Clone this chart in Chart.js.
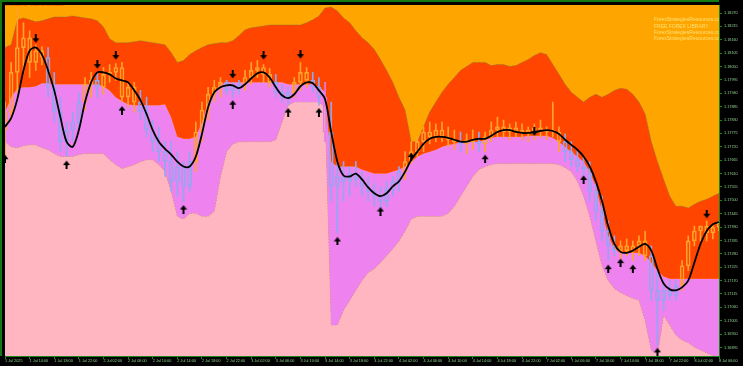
<!DOCTYPE html>
<html><head><meta charset="utf-8">
<script src="https://cdn.jsdelivr.net/npm/chart.js@4.4.1/dist/chart.umd.min.js"></script>
<style>html,body{margin:0;padding:0;background:#000;overflow:hidden}canvas{display:block}</style>
</head><body>
<canvas id="c" width="743" height="366"></canvas>
<script>
const categories = [
"1 Jul 10:00","1 Jul 11:00","1 Jul 12:00","1 Jul 13:00","1 Jul 14:00","1 Jul 15:00","1 Jul 16:00","1 Jul 17:00","1 Jul 18:00","1 Jul 19:00","1 Jul 20:00","1 Jul 21:00","1 Jul 22:00","1 Jul 23:00",
"2 Jul 00:00","2 Jul 01:00","2 Jul 02:00","2 Jul 03:00","2 Jul 04:00","2 Jul 05:00","2 Jul 06:00","2 Jul 07:00","2 Jul 08:00","2 Jul 09:00","2 Jul 10:00","2 Jul 11:00","2 Jul 12:00","2 Jul 13:00","2 Jul 14:00","2 Jul 15:00","2 Jul 16:00","2 Jul 17:00","2 Jul 18:00","2 Jul 19:00","2 Jul 20:00","2 Jul 21:00","2 Jul 22:00","2 Jul 23:00",
"3 Jul 00:00","3 Jul 01:00","3 Jul 02:00","3 Jul 03:00","3 Jul 04:00","3 Jul 05:00","3 Jul 06:00","3 Jul 07:00","3 Jul 08:00","3 Jul 09:00","3 Jul 10:00","3 Jul 11:00","3 Jul 12:00","3 Jul 13:00","3 Jul 14:00","3 Jul 15:00","3 Jul 16:00","3 Jul 17:00","3 Jul 18:00","3 Jul 19:00","3 Jul 20:00","3 Jul 21:00","3 Jul 22:00","3 Jul 23:00",
"4 Jul 00:00","4 Jul 01:00","4 Jul 02:00","4 Jul 03:00","4 Jul 04:00","4 Jul 05:00","4 Jul 06:00","4 Jul 07:00","4 Jul 08:00","4 Jul 09:00","4 Jul 10:00","4 Jul 11:00","4 Jul 12:00","4 Jul 13:00","4 Jul 14:00","4 Jul 15:00","4 Jul 16:00","4 Jul 17:00","4 Jul 18:00","4 Jul 19:00","4 Jul 20:00","4 Jul 21:00","4 Jul 22:00","4 Jul 23:00",
"7 Jul 00:00","7 Jul 01:00","7 Jul 02:00","7 Jul 03:00","7 Jul 04:00","7 Jul 05:00","7 Jul 06:00","7 Jul 07:00","7 Jul 08:00","7 Jul 09:00","7 Jul 10:00","7 Jul 11:00","7 Jul 12:00","7 Jul 13:00","7 Jul 14:00","7 Jul 15:00","7 Jul 16:00","7 Jul 17:00","7 Jul 18:00","7 Jul 19:00","7 Jul 20:00","7 Jul 21:00","7 Jul 22:00","7 Jul 23:00",
"8 Jul 00:00","8 Jul 01:00","8 Jul 02:00","8 Jul 03:00","8 Jul 04:00","8 Jul 05:00","8 Jul 06:00"];

const tickLabels = ["1 Jul 2025","1 Jul 14:00","1 Jul 18:00","1 Jul 22:00","2 Jul 02:00","2 Jul 06:00","2 Jul 10:00","2 Jul 14:00","2 Jul 18:00","2 Jul 22:00","3 Jul 02:00","3 Jul 06:00","3 Jul 10:00","3 Jul 14:00","3 Jul 18:00","3 Jul 22:00","4 Jul 02:00","4 Jul 06:00","4 Jul 10:00","4 Jul 14:00","4 Jul 18:00","4 Jul 22:00","7 Jul 02:00","7 Jul 06:00","7 Jul 10:00","7 Jul 14:00","7 Jul 18:00","7 Jul 22:00","8 Jul 02:00","8 Jul 06:00"];

const yTicks = [1.16895,1.16950,1.17005,1.17060,1.17115,1.17170,1.17225,1.17280,1.17335,1.17390,1.17445,1.17500,1.17555,1.17610,1.17665,1.17720,1.17775,1.17830,1.17885,1.17940,1.17995,1.18050,1.18105,1.18160,1.18215,1.18270];

const openP = [1.17789,1.17863,1.18026,1.18128,1.18168,1.18067,1.18115,1.18087,1.17965,1.17863,
1.17741,1.17789,1.17822,1.17904,1.17977,1.17993,1.17965,1.18018,1.18026,1.18046,
1.17924,1.17965,1.17904,1.17863,1.17789,1.17741,1.17700,1.17659,1.17578,1.17639,
1.17557,1.17659,1.17781,1.17871,1.17936,1.17965,1.17985,1.17952,1.17969,1.17977,
1.18005,1.18034,1.18046,1.18018,1.17985,1.17944,1.17924,1.17944,1.17985,1.18026,
1.17993,1.17965,1.17924,1.17781,1.17557,1.17598,1.17578,1.17610,1.17586,1.17557,
1.17537,1.17517,1.17496,1.17545,1.17578,1.17618,1.17659,1.17700,1.17741,1.17781,
1.17761,1.17789,1.17761,1.17749,1.17741,1.17732,1.17749,1.17741,1.17732,1.17761,
1.17789,1.17802,1.17781,1.17798,1.17781,1.17789,1.17773,1.17798,1.17781,1.17789,
1.17781,1.17741,1.17700,1.17667,1.17639,1.17627,1.17537,1.17455,1.17374,1.17313,
1.17293,1.17313,1.17293,1.17313,1.17333,1.17272,1.17130,1.17089,1.17130,1.17109,
1.17150,1.17231,1.17333,1.17374,1.17394,1.17366,1.17390];

const highP = [1.17904,1.18067,1.18291,1.18230,1.18197,1.18140,1.18132,1.18128,1.18026,1.17924,
1.17822,1.17863,1.17944,1.18005,1.18026,1.18026,1.18046,1.18058,1.18062,1.18067,
1.17985,1.17985,1.17952,1.17924,1.17830,1.17802,1.17741,1.17741,1.17700,1.17659,
1.17700,1.17822,1.17904,1.17965,1.17993,1.18005,1.17993,1.17985,1.17993,1.18034,
1.18067,1.18075,1.18058,1.18042,1.18018,1.17977,1.17965,1.18005,1.18067,1.18046,
1.18026,1.18005,1.17985,1.17904,1.17659,1.17659,1.17639,1.17659,1.17618,1.17598,
1.17570,1.17557,1.17578,1.17598,1.17639,1.17700,1.17741,1.17761,1.17802,1.17822,
1.17814,1.17822,1.17802,1.17789,1.17781,1.17773,1.17789,1.17781,1.17781,1.17822,
1.17842,1.17830,1.17814,1.17822,1.17814,1.17802,1.17814,1.17830,1.17802,1.17904,
1.17802,1.17773,1.17741,1.17700,1.17680,1.17659,1.17578,1.17517,1.17415,1.17354,
1.17333,1.17341,1.17333,1.17354,1.17374,1.17313,1.17211,1.17170,1.17170,1.17170,
1.17252,1.17354,1.17394,1.17394,1.17415,1.17398,1.17415];

const lowP = [1.17659,1.17830,1.17944,1.18026,1.18005,1.18034,1.18058,1.17924,1.17822,1.17700,
1.17680,1.17741,1.17789,1.17871,1.17924,1.17924,1.17936,1.17985,1.17993,1.17904,
1.17883,1.17863,1.17830,1.17761,1.17700,1.17659,1.17598,1.17537,1.17517,1.17496,
1.17537,1.17618,1.17741,1.17830,1.17904,1.17924,1.17936,1.17924,1.17936,1.17952,
1.17977,1.18005,1.17985,1.17965,1.17924,1.17904,1.17891,1.17924,1.17952,1.17965,
1.17944,1.17891,1.17741,1.17496,1.17366,1.17496,1.17517,1.17557,1.17517,1.17496,
1.17476,1.17455,1.17476,1.17517,1.17537,1.17586,1.17651,1.17680,1.17700,1.17732,
1.17741,1.17741,1.17720,1.17708,1.17700,1.17692,1.17708,1.17700,1.17700,1.17741,
1.17761,1.17761,1.17749,1.17761,1.17749,1.17741,1.17749,1.17757,1.17749,1.17761,
1.17700,1.17659,1.17639,1.17618,1.17598,1.17496,1.17415,1.17333,1.17252,1.17272,
1.17260,1.17272,1.17252,1.17272,1.17252,1.17089,1.16905,1.17048,1.17089,1.17089,
1.17130,1.17211,1.17313,1.17333,1.17333,1.17341,1.17374];

const closeP = [1.17863,1.18026,1.18128,1.18168,1.18067,1.18115,1.18087,1.17965,1.17863,1.17741,
1.17789,1.17822,1.17904,1.17977,1.17993,1.17965,1.18018,1.18026,1.18046,1.17924,
1.17965,1.17904,1.17863,1.17789,1.17741,1.17700,1.17659,1.17578,1.17639,1.17557,
1.17659,1.17781,1.17871,1.17936,1.17965,1.17985,1.17952,1.17969,1.17977,1.18005,
1.18034,1.18046,1.18018,1.17985,1.17944,1.17924,1.17944,1.17985,1.18026,1.17993,
1.17965,1.17924,1.17781,1.17557,1.17598,1.17578,1.17610,1.17586,1.17557,1.17537,
1.17517,1.17496,1.17545,1.17578,1.17618,1.17659,1.17700,1.17741,1.17781,1.17761,
1.17789,1.17761,1.17749,1.17741,1.17732,1.17749,1.17741,1.17732,1.17761,1.17789,
1.17802,1.17781,1.17798,1.17781,1.17789,1.17773,1.17798,1.17781,1.17789,1.17781,
1.17741,1.17700,1.17667,1.17639,1.17627,1.17537,1.17455,1.17374,1.17313,1.17293,
1.17313,1.17293,1.17313,1.17333,1.17272,1.17130,1.17089,1.17130,1.17109,1.17150,
1.17231,1.17333,1.17374,1.17394,1.17366,1.17390,1.17407];

const upperBand = [1.18128,1.18140,1.18242,1.18250,1.18242,1.18234,1.18238,1.18246,1.18254,1.18254,
1.18254,1.18258,1.18254,1.18250,1.18246,1.18238,1.18213,1.18164,1.18148,1.18148,
1.18148,1.18152,1.18156,1.18152,1.18148,1.18144,1.18140,1.18107,1.18067,1.18075,
1.18099,1.18115,1.18128,1.18140,1.18144,1.18148,1.18148,1.18156,1.18177,1.18201,
1.18209,1.18213,1.18217,1.18221,1.18221,1.18221,1.18221,1.18221,1.18221,1.18230,
1.18242,1.18258,1.18291,1.18295,1.18278,1.18250,1.18230,1.18197,1.18168,1.18148,
1.18120,1.18079,1.18034,1.17985,1.17924,1.17871,1.17741,1.17741,1.17802,1.17863,
1.17904,1.17944,1.17977,1.18005,1.18034,1.18050,1.18067,1.18067,1.18067,1.18054,
1.18058,1.18058,1.18050,1.18054,1.18067,1.18079,1.18095,1.18107,1.18099,1.18058,
1.18018,1.17977,1.17944,1.17924,1.17904,1.17924,1.17936,1.17924,1.17936,1.17952,
1.17961,1.17957,1.17936,1.17904,1.17855,1.17741,1.17659,1.17586,1.17517,1.17476,
1.17476,1.17468,1.17484,1.17496,1.17504,1.17517,1.17529];

const midBand = [1.17863,1.17924,1.17961,1.17965,1.17965,1.17969,1.17981,1.17981,1.17977,1.17977,
1.17977,1.17977,1.17977,1.17977,1.17977,1.17977,1.17969,1.17952,1.17924,1.17908,
1.17895,1.17891,1.17891,1.17891,1.17891,1.17891,1.17895,1.17842,1.17761,1.17753,
1.17753,1.17761,1.17822,1.17904,1.17944,1.17977,1.17985,1.17985,1.17985,1.17985,
1.17985,1.17985,1.17985,1.17985,1.17985,1.17985,1.17977,1.17977,1.17977,1.17977,
1.17977,1.17969,1.17944,1.17659,1.17639,1.17639,1.17639,1.17639,1.17627,1.17618,
1.17610,1.17610,1.17610,1.17618,1.17627,1.17639,1.17659,1.17680,1.17692,1.17700,
1.17708,1.17720,1.17728,1.17732,1.17741,1.17741,1.17741,1.17741,1.17749,1.17757,
1.17761,1.17761,1.17761,1.17761,1.17761,1.17765,1.17765,1.17765,1.17765,1.17757,
1.17741,1.17720,1.17700,1.17680,1.17659,1.17618,1.17557,1.17455,1.17354,1.17301,
1.17284,1.17284,1.17284,1.17284,1.17272,1.17244,1.17211,1.17187,1.17178,1.17178,
1.17178,1.17178,1.17178,1.17178,1.17178,1.17178,1.17178];

const lowerBand = [1.17741,1.17720,1.17716,1.17724,1.17728,1.17728,1.17716,1.17708,1.17692,1.17680,
1.17680,1.17680,1.17688,1.17692,1.17692,1.17692,1.17692,1.17667,1.17647,1.17631,
1.17639,1.17647,1.17659,1.17667,1.17667,1.17647,1.17618,1.17537,1.17435,1.17423,
1.17447,1.17447,1.17435,1.17435,1.17455,1.17598,1.17700,1.17732,1.17741,1.17741,
1.17741,1.17741,1.17741,1.17741,1.17749,1.17822,1.17891,1.17904,1.17904,1.17904,
1.17904,1.17904,1.17883,1.16987,1.16987,1.17048,1.17089,1.17130,1.17170,1.17203,
1.17219,1.17244,1.17272,1.17301,1.17333,1.17374,1.17423,1.17435,1.17435,1.17435,
1.17435,1.17435,1.17447,1.17476,1.17517,1.17557,1.17598,1.17627,1.17639,1.17647,
1.17651,1.17651,1.17651,1.17651,1.17651,1.17651,1.17651,1.17651,1.17651,1.17651,
1.17647,1.17635,1.17618,1.17578,1.17517,1.17435,1.17333,1.17231,1.17170,1.17138,
1.17121,1.17109,1.17097,1.17089,1.17007,1.16885,1.16865,1.17028,1.16987,1.16946,
1.16926,1.16914,1.16897,1.16885,1.16873,1.16861,1.16857];

const trendLine = [1.17802,1.17838,1.17916,1.18034,1.18115,1.18128,1.18099,1.18034,1.17952,1.17842,
1.17741,1.17720,1.17789,1.17904,1.17985,1.18026,1.18026,1.18018,1.18001,1.17993,
1.17985,1.17952,1.17912,1.17855,1.17789,1.17741,1.17712,1.17688,1.17659,1.17639,
1.17639,1.17680,1.17773,1.17883,1.17944,1.17965,1.17973,1.17973,1.17961,1.17977,
1.18001,1.18022,1.18026,1.18005,1.17965,1.17932,1.17920,1.17936,1.17969,1.17985,
1.17981,1.17952,1.17916,1.17781,1.17659,1.17602,1.17598,1.17610,1.17586,1.17553,
1.17529,1.17517,1.17529,1.17557,1.17578,1.17618,1.17667,1.17700,1.17732,1.17753,
1.17761,1.17761,1.17757,1.17749,1.17741,1.17741,1.17749,1.17753,1.17753,1.17765,
1.17781,1.17789,1.17789,1.17781,1.17777,1.17777,1.17781,1.17785,1.17789,1.17785,
1.17773,1.17749,1.17728,1.17708,1.17680,1.17639,1.17578,1.17496,1.17394,1.17321,
1.17288,1.17284,1.17293,1.17309,1.17321,1.17293,1.17219,1.17158,1.17134,1.17130,
1.17142,1.17170,1.17244,1.17321,1.17374,1.17402,1.17411];

const downArrowIdx = [5,15,18,37,42,48,86,114];
const downArrowVal = [1.18164,1.18058,1.18095,1.18018,1.18095,1.18099,1.17781,1.17443];
const upArrowIdx = [0,10,19,29,37,46,51,54,61,66,78,94,98,100,102,106];
const upArrowVal = [1.17671,1.17647,1.17871,1.17464,1.17895,1.17863,1.17863,1.17333,1.17456,1.17680,1.17671,1.17586,1.17219,1.17244,1.17219,1.16877];

const titleText = "EURUSD,H1:  Euro vs US Dollar";
const infoLines = ["ForexStrategiesResources.com","FREE FOREX LIBRARY","ForexStrategiesResources.com","ForexStrategiesResources.com"];

const AXIS_GREEN = '#1a861a';
const TEXT_GREEN = '#8fd08f';

function candleColor(i){
  const c = closeP[i];
  if (c >= midBand[i]) return '#ffa32a';
  if (c >= lowerBand[i]) return '#93a6f3';
  return '#e07ce6';
}
const colors = categories.map((_, i) => candleColor(i));
const wickUp = categories.map((_, i) => [Math.max(openP[i], closeP[i]), highP[i]]);
const wickDn = categories.map((_, i) => [lowP[i], Math.min(openP[i], closeP[i])]);
const bodies = categories.map((_, i) => [openP[i], closeP[i]]);

function makeArrow(down){
  const c = document.createElement('canvas'); c.width = 8; c.height = 9;
  const g = c.getContext('2d'); g.fillStyle = '#000';
  g.beginPath();
  if (down) { g.fillRect(3,0,2,5); g.moveTo(0.5,4); g.lineTo(7.5,4); g.lineTo(4,8.5); }
  else { g.fillRect(3,4,2,5); g.moveTo(0.5,5); g.lineTo(7.5,5); g.lineTo(4,0.5); }
  g.closePath(); g.fill();
  return c;
}
const downImg = makeArrow(true), upImg = makeArrow(false);

const decor = {
  id: 'decor',
  beforeDraw(chart){
    const {ctx, chartArea:a} = chart;
    ctx.save();
    ctx.fillStyle = '#000'; ctx.fillRect(0,0,chart.width,chart.height);
    ctx.fillStyle = '#ffa500'; ctx.fillRect(a.left, a.top, a.right-a.left, a.bottom-a.top);
    ctx.restore();
  },
  afterDraw(chart){
    const {ctx, chartArea:a} = chart;
    ctx.save();
    ctx.fillStyle = '#137a13';
    ctx.fillRect(0,0,a.right,2);
    ctx.fillRect(0,0,2,a.bottom);
    ctx.beginPath(); ctx.rect(a.left,a.top,a.right-a.left,a.bottom-a.top); ctx.clip();
    ctx.textBaseline = 'middle'; ctx.textAlign = 'left';
    ctx.font = '4.2px "Liberation Sans"';
    ctx.fillStyle = '#d8400e';
    ctx.fillText(titleText, 3, 4.5);
    ctx.font = '5px "Liberation Sans"';
    ctx.fillStyle = '#ffe070';
    const ys = [20, 26.3, 32.3, 38.3];
    infoLines.forEach((t, k) => ctx.fillText(t, 654, ys[k]));
    ctx.restore();
  }
};

new Chart(document.getElementById('c'), {
  type: 'bar',
  data: {
    labels: categories,
    datasets: [
      {type:'line', data: upperBand, fill: '+1', backgroundColor:'#ff4500', borderColor:'rgba(120,120,60,0.75)', borderWidth:1, borderDash:[1,1], pointRadius:0, tension:0, order:10},
      {type:'line', data: midBand, fill: '+1', backgroundColor:'#ee82ee', borderColor:'rgba(0,0,0,0)', borderWidth:0, pointRadius:0, tension:0, order:10},
      {type:'line', data: lowerBand, fill: 'start', backgroundColor:'#ffb6c1', borderColor:'#9c8f9c', borderWidth:1, borderDash:[1,2], pointRadius:0, tension:0, order:10},
      {type:'bar', data: wickUp, grouped:false, barThickness:1, backgroundColor: colors, borderWidth:0, order:6},
      {type:'bar', data: wickDn, grouped:false, barThickness:1, backgroundColor: colors, borderWidth:0, order:6},
      {type:'bar', data: bodies, grouped:false, barThickness:4, minBarLength:1, backgroundColor:'rgba(0,0,0,0)', borderColor: colors, borderWidth:1, borderSkipped:false, order:5},
      {type:'line', data: trendLine, borderColor:'#000', borderWidth:1.8, pointRadius:0, tension:0.3, fill:false, order:2},
      {type:'line', data: downArrowIdx.map((k, j) => ({x: categories[k], y: downArrowVal[j]})), showLine:false, pointStyle: downImg, pointRadius:4, order:1},
      {type:'line', data: upArrowIdx.map((k, j) => ({x: categories[k], y: upArrowVal[j]})), showLine:false, pointStyle: upImg, pointRadius:4, order:1}
    ]
  },
  options: {
    responsive:false, animation:false, devicePixelRatio:1, events:[],
    layout:{padding:{left:2, top:2, right:0, bottom:0}},
    plugins:{legend:{display:false}, tooltip:{enabled:false}},
    scales:{
      x:{
        type:'category', offset:false,
        grid:{offset:false, drawOnChartArea:false, drawTicks:true, tickLength:3, color:AXIS_GREEN},
        border:{display:true, color:AXIS_GREEN, width:1},
        ticks:{autoSkip:false, maxRotation:0, minRotation:0, align:'start', padding:0, color:TEXT_GREEN,
          font:{family:'Liberation Sans', size:3.8},
          callback:(v) => (v % 4 === 0 ? tickLabels[v/4] : null)},
        afterFit(s){ s.height = 10; }
      },
      y:{
        type:'linear', position:'right', min:1.16860, max:1.18303,
        grid:{drawOnChartArea:false, drawTicks:true, tickLength:3, color:AXIS_GREEN},
        border:{display:true, color:AXIS_GREEN, width:1},
        ticks:{autoSkip:false, padding:2, color:TEXT_GREEN, font:{family:'Liberation Sans', size:3.8},
          callback:(v) => Number(v).toFixed(5)},
        afterBuildTicks(s){ s.ticks = yTicks.map(v => ({value:v})); },
        afterFit(s){ s.width = 24; }
      }
    }
  },
  plugins:[decor]
});
</script>
</body></html>
